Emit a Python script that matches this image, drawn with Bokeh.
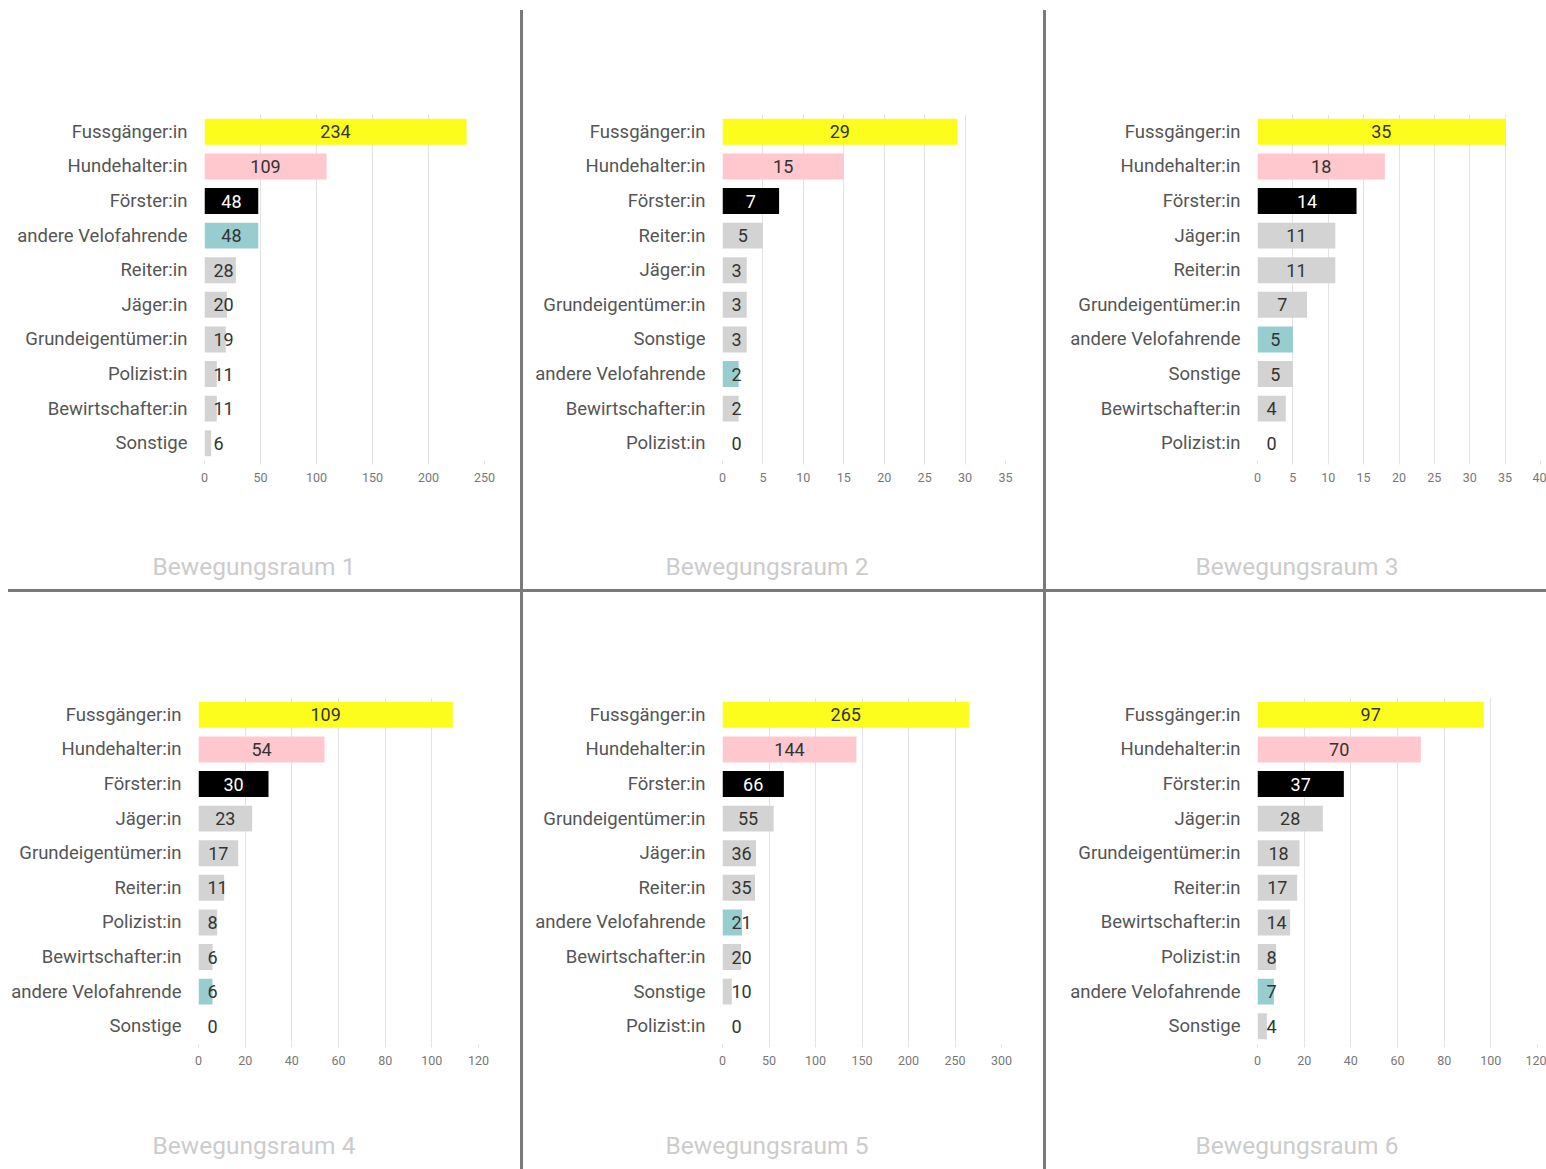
from bokeh.plotting import figure
from bokeh.models import FactorRange, Range1d, ColumnDataSource, SingleIntervalTicker, Div
from bokeh.layouts import row, column
from bokeh.embed import file_html
from bokeh.resources import INLINE
from bokeh.core.properties import value

# ---------------- data ----------------
titles = ["Bewegungsraum 1", "Bewegungsraum 2", "Bewegungsraum 3",
          "Bewegungsraum 4", "Bewegungsraum 5", "Bewegungsraum 6"]

cats1 = ["Fussgänger:in", "Hundehalter:in", "Förster:in", "andere Velofahrende", "Reiter:in",
         "Jäger:in", "Grundeigentümer:in", "Polizist:in", "Bewirtschafter:in", "Sonstige"]
vals1 = [234, 109, 48, 48, 28, 20, 19, 11, 11, 6]

cats2 = ["Fussgänger:in", "Hundehalter:in", "Förster:in", "Reiter:in", "Jäger:in",
         "Grundeigentümer:in", "Sonstige", "andere Velofahrende", "Bewirtschafter:in", "Polizist:in"]
vals2 = [29, 15, 7, 5, 3, 3, 3, 2, 2, 0]

cats3 = ["Fussgänger:in", "Hundehalter:in", "Förster:in", "Jäger:in", "Reiter:in",
         "Grundeigentümer:in", "andere Velofahrende", "Sonstige", "Bewirtschafter:in", "Polizist:in"]
vals3 = [35, 18, 14, 11, 11, 7, 5, 5, 4, 0]

cats4 = ["Fussgänger:in", "Hundehalter:in", "Förster:in", "Jäger:in", "Grundeigentümer:in",
         "Reiter:in", "Polizist:in", "Bewirtschafter:in", "andere Velofahrende", "Sonstige"]
vals4 = [109, 54, 30, 23, 17, 11, 8, 6, 6, 0]

cats5 = ["Fussgänger:in", "Hundehalter:in", "Förster:in", "Grundeigentümer:in", "Jäger:in",
         "Reiter:in", "andere Velofahrende", "Bewirtschafter:in", "Sonstige", "Polizist:in"]
vals5 = [265, 144, 66, 55, 36, 35, 21, 20, 10, 0]

cats6 = ["Fussgänger:in", "Hundehalter:in", "Förster:in", "Jäger:in", "Grundeigentümer:in",
         "Reiter:in", "Bewirtschafter:in", "Polizist:in", "andere Velofahrende", "Sonstige"]
vals6 = [97, 70, 37, 28, 18, 17, 14, 8, 7, 4]

axis_max = [250, 35, 40, 120, 300, 120]
tick_step = [50, 5, 5, 20, 50, 20]

# ---------------- style ----------------
FONT = "Roboto"
CAT_COLORS = {"Fussgänger:in": "#fdfd1d", "Hundehalter:in": "#ffc7ce",
              "Förster:in": "#000000", "andere Velofahrende": "#98cdd0"}
GRAY = "#d3d3d3"
SEP = "#7a7a7a"

# chart: (width, height, border left, frame width, border top, frame height)
# title strip: (height, title centre x, line height)
geom = [
    (520, 545, 204, 280, 114, 346, 44, 254, 44),
    (520, 545, 199, 283, 114, 346, 44, 244, 44),
    (500, 545, 211, 283, 114, 346, 44, 251, 44),
    (520, 525, 198, 280, 105, 346, 52, 254, 57),
    (520, 525, 199, 279, 105, 346, 52, 244, 57),
    (500, 525, 211, 280, 105, 346, 52, 251, 57),
]


def make_chart(cats, vals, xmax, step, g):
    W, H, left, fw, top, fh = g[:6]
    p = figure(width=W, height=H, output_backend="svg", toolbar_location=None,
               y_range=FactorRange(*list(reversed(cats))), x_range=Range1d(0, xmax),
               min_border_left=left, min_border_right=W - left - fw,
               min_border_top=top, min_border_bottom=H - top - fh)
    colors = [CAT_COLORS.get(c, GRAY) for c in cats]
    src = ColumnDataSource(dict(cat=cats, val=vals, color=colors))
    p.hbar(y="cat", right="val", height=0.75, fill_color="color", line_color=None, source=src)

    ppu = fw / xmax
    cen = dict(cat=[], x=[], label=[], tc=[])
    lef = dict(cat=[], x=[], label=[], tc=[])
    for c, v in zip(cats, vals):
        lab = str(v)
        tc = "#ffffff" if c == "Förster:in" else "#333333"
        if v * ppu >= 10 * len(lab) + 16:
            d = cen; xv = v / 2
        else:
            d = lef; xv = 0
        d["cat"].append(c); d["x"].append(xv); d["label"].append(lab); d["tc"].append(tc)
    p.text(x="x", y="cat", text="label", text_color="tc", source=ColumnDataSource(cen),
           text_font=value(FONT), text_font_size="18px", text_align="center", text_baseline="middle")
    p.text(x="x", y="cat", text="label", text_color="tc", source=ColumnDataSource(lef),
           text_font=value(FONT), text_font_size="18px", text_align="left", text_baseline="middle",
           x_offset=9)

    p.xaxis.ticker = SingleIntervalTicker(interval=step, num_minor_ticks=0)
    p.xaxis.axis_line_color = None
    p.xaxis.major_tick_line_color = "#e3e3e3"
    p.xaxis.major_tick_out = 4
    p.xaxis.major_tick_in = 0
    p.xaxis.minor_tick_line_color = None
    p.xaxis.major_label_standoff = 8
    p.xaxis.major_label_text_font = FONT
    p.xaxis.major_label_text_font_size = "12.5px"
    p.xaxis.major_label_text_color = "#777777"

    p.yaxis.axis_line_color = None
    p.yaxis.major_tick_line_color = None
    p.yaxis.major_tick_out = 0
    p.yaxis.major_tick_in = 0
    p.yaxis.major_label_standoff = 17
    p.yaxis.major_label_text_font = FONT
    p.yaxis.major_label_text_font_size = "18.5px"
    p.yaxis.major_label_text_color = "#555555"

    p.xgrid.grid_line_color = "#e3e3e3"
    p.ygrid.grid_line_color = None
    p.outline_line_color = None
    p.background_fill_color = "white"
    p.border_fill_color = "white"
    return p


def make_title(title, g):
    th, tx, lh = g[6:]
    return Div(text=title, width=2 * tx, height=th, margin=(0, 0, 0, 0),
               styles={"font-family": FONT, "font-size": "24.5px", "color": "#cccccc",
                       "text-align": "center", "line-height": f"{lh}px",
                       "white-space": "nowrap", "overflow": "visible"})


all_cats = [cats1, cats2, cats3, cats4, cats5, cats6]
all_vals = [vals1, vals2, vals3, vals4, vals5, vals6]
panels = [column(make_chart(all_cats[i], all_vals[i], axis_max[i], tick_step[i], geom[i]),
                 make_title(titles[i], geom[i]), spacing=0)
          for i in range(6)]


def vsep(h, top=0):
    return Div(width=3, height=h, margin=(top, 0, 0, 0), styles={"background-color": SEP})


top_row = row(panels[0], vsep(579, 10), panels[1], vsep(579, 10), panels[2], spacing=0)
hline = Div(width=1538, height=3, margin=(0, 0, 0, 8), styles={"background-color": SEP})
bot_row = row(panels[3], vsep(577), panels[4], vsep(577), panels[5], spacing=0)
layout = column(top_row, hline, bot_row, spacing=0)

open("out.html", "w").write(file_html(layout, INLINE))
